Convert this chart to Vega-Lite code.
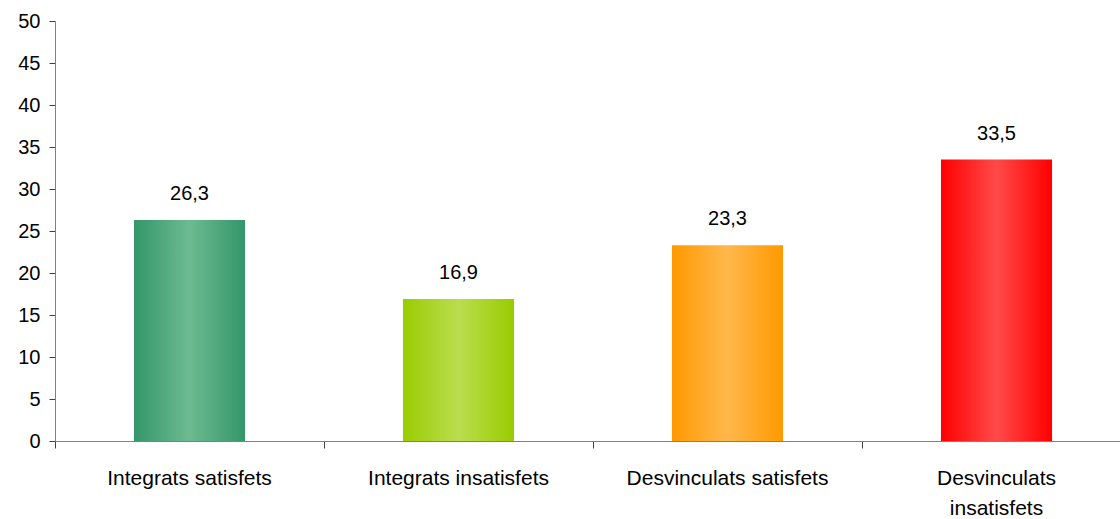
{
  "$schema": "https://vega.github.io/schema/vega-lite/v6.json",
  "width": 1065,
  "height": 420,
  "autosize": {"type": "none"},
  "padding": {"left": 55, "top": 21, "right": 0, "bottom": 78},
  "background": "white",
  "config": {
    "view": {"stroke": null},
    "font": "Liberation Sans",
    "locale": {"number": {"decimal": ",", "thousands": ".", "grouping": [3], "currency": ["", " €"]}}
  },
  "data": {
    "values": [
      {"cat": "Integrats satisfets", "value": 26.3},
      {"cat": "Integrats insatisfets", "value": 16.9},
      {"cat": "Desvinculats satisfets", "value": 23.3},
      {"cat": "Desvinculats insatisfets", "value": 33.5}
    ]
  },
  "encoding": {
    "x": {
      "field": "cat", "type": "nominal", "sort": null,
      "scale": {"paddingInner": 0, "paddingOuter": 0, "rangeMax": 1076},
      "axis": {
        "title": null, "labelAngle": 0, "bandPosition": 0,
        "domainColor": "#808080", "tickColor": "#404040", "tickSize": 7,
        "labelFontSize": 21, "labelColor": "#000000", "labelPadding": 19,
        "labelBaseline": "top", "labelLineHeight": 30,
        "labelLimit": 0, "labelOverlap": false, "labelBound": false,
        "labelExpr": "datum.label == 'Desvinculats insatisfets' ? ['Desvinculats', 'insatisfets'] : datum.label",
        "zindex": 1
      }
    },
    "y": {
      "field": "value", "type": "quantitative",
      "scale": {"domain": [0, 50], "nice": false},
      "axis": {
        "title": null, "values": [0, 5, 10, 15, 20, 25, 30, 35, 40, 45, 50],
        "grid": false, "domainColor": "#808080", "tickColor": "#404040", "tickSize": 6,
        "labelFontSize": 20, "labelColor": "#000000", "labelPadding": 9,
        "zindex": 1
      }
    }
  },
  "layer": [
    {
      "transform": [{"filter": "datum.cat == 'Integrats satisfets'"}],
      "mark": {"type": "bar", "width": {"band": 0.413},
        "color": {"gradient": "linear", "x1": 0, "x2": 1, "y1": 0, "y2": 0,
          "stops": [{"offset": 0, "color": "#34966A"}, {"offset": 0.5, "color": "#6DBA90"}, {"offset": 1, "color": "#34966A"}]}}
    },
    {
      "transform": [{"filter": "datum.cat == 'Integrats insatisfets'"}],
      "mark": {"type": "bar", "width": {"band": 0.413},
        "color": {"gradient": "linear", "x1": 0, "x2": 1, "y1": 0, "y2": 0,
          "stops": [{"offset": 0, "color": "#99CC00"}, {"offset": 0.5, "color": "#BADD4F"}, {"offset": 1, "color": "#99CC00"}]}}
    },
    {
      "transform": [{"filter": "datum.cat == 'Desvinculats satisfets'"}],
      "mark": {"type": "bar", "width": {"band": 0.413},
        "color": {"gradient": "linear", "x1": 0, "x2": 1, "y1": 0, "y2": 0,
          "stops": [{"offset": 0, "color": "#FF9900"}, {"offset": 0.5, "color": "#FFB84C"}, {"offset": 1, "color": "#FF9900"}]}}
    },
    {
      "transform": [{"filter": "datum.cat == 'Desvinculats insatisfets'"}],
      "mark": {"type": "bar", "width": {"band": 0.413},
        "color": {"gradient": "linear", "x1": 0, "x2": 1, "y1": 0, "y2": 0,
          "stops": [{"offset": 0, "color": "#FF0000"}, {"offset": 0.5, "color": "#FF4A4A"}, {"offset": 1, "color": "#FF0000"}]}}
    },
    {
      "mark": {"type": "text", "baseline": "middle", "dy": -26, "fontSize": 20, "color": "#000000"},
      "encoding": {"text": {"field": "value", "type": "quantitative", "format": ".1f"}}
    }
  ]
}
